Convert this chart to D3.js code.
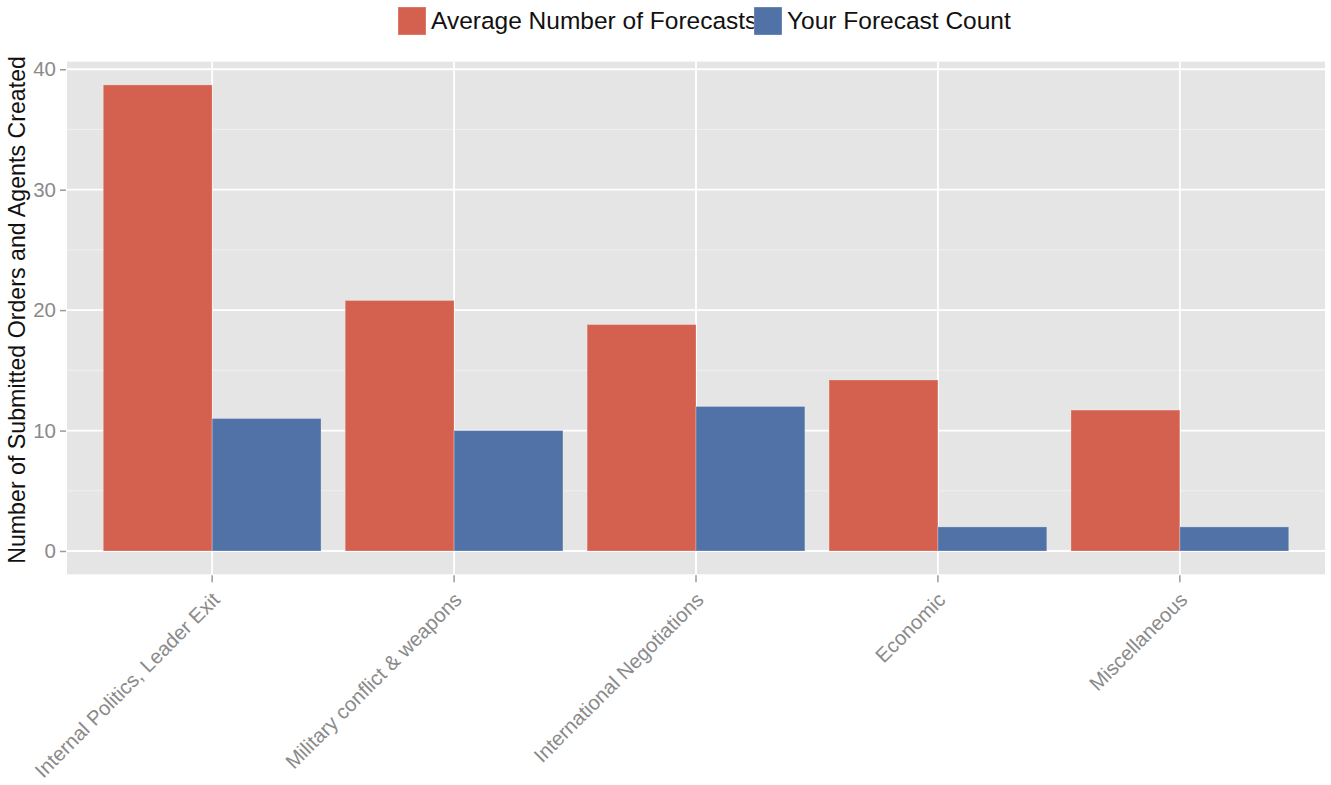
<!DOCTYPE html>
<html><head><meta charset="utf-8">
<script src="https://cdn.jsdelivr.net/npm/d3@7"></script>
<style>
body{margin:0;background:#fff;}
text{font-family:"Liberation Sans",Arial,sans-serif;}
</style></head>
<body>
<svg id="chart" width="1331" height="785"></svg>
<script>
const categories = ["Internal Politics, Leader Exit","Military conflict & weapons","International Negotiations","Economic","Miscellaneous"];
const seriesNames = ["Average Number of Forecasts","Your Forecast Count"];
const avgForecasts = [38.7, 20.8, 18.8, 14.2, 11.7];
const yourCount = [11, 10, 12, 2, 2];
const yTicks = [0, 10, 20, 30, 40];
const yMinorTicks = [5, 15, 25, 35];
const colors = ["#d4614f", "#5172a7"];

const svg = d3.select("#chart");
const panel = {left: 67, right: 1325, top: 61.6, bottom: 574.3};

const maxV = d3.max(avgForecasts.concat(yourCount));
const y = d3.scaleLinear().domain([-0.05*maxV, maxV*1.05]).range([panel.bottom, panel.top]);
const x = d3.scaleBand().domain(categories).range([panel.left, panel.right]).paddingInner(0.1).paddingOuter(0.15);
const xs = d3.scaleBand().domain(seriesNames).range([0, x.bandwidth()]);

// panel background
svg.append("rect").attr("x", panel.left).attr("y", panel.top)
  .attr("width", panel.right - panel.left).attr("height", panel.bottom - panel.top)
  .attr("fill", "#e5e5e5");

// minor grid
svg.append("g").selectAll("line").data(yMinorTicks).join("line")
  .attr("x1", panel.left).attr("x2", panel.right)
  .attr("y1", d => y(d)).attr("y2", d => y(d))
  .attr("stroke", "#f0f0f0").attr("stroke-width", 1);
// major grid
svg.append("g").selectAll("line").data(yTicks).join("line")
  .attr("x1", panel.left).attr("x2", panel.right)
  .attr("y1", d => y(d)).attr("y2", d => y(d))
  .attr("stroke", "#ffffff").attr("stroke-width", 1.8);
svg.append("g").selectAll("line").data(categories).join("line")
  .attr("x1", d => x(d) + x.bandwidth()/2).attr("x2", d => x(d) + x.bandwidth()/2)
  .attr("y1", panel.top).attr("y2", panel.bottom)
  .attr("stroke", "#ffffff").attr("stroke-width", 1.8);

// bars
const rows = categories.map((c, i) => ({c, vals: [avgForecasts[i], yourCount[i]]}));
const g = svg.append("g");
rows.forEach(r => {
  r.vals.forEach((v, j) => {
    g.append("rect")
      .attr("x", x(r.c) + xs(seriesNames[j]))
      .attr("y", y(v))
      .attr("width", xs.bandwidth())
      .attr("height", y(0) - y(v))
      .attr("fill", colors[j])
      .attr("stroke", "rgba(255,255,255,0.25)")
      .attr("stroke-width", 1);
  });
});

// y axis
const yAxis = d3.axisLeft(y).tickValues(yTicks).tickSize(6).tickPadding(4);
const ya = svg.append("g").attr("transform", `translate(${panel.left - 1},0)`).call(yAxis);
ya.select(".domain").remove();
ya.selectAll(".tick line").attr("stroke", "#9a9a9a").attr("stroke-width", 1.5);
ya.selectAll(".tick text").attr("fill", "#8a8a8a").attr("font-size", 20.5)
  .attr("font-family", "Liberation Sans, Arial, sans-serif");

// x axis
const xAxis = d3.axisBottom(x).tickSize(7).tickPadding(4);
const xa = svg.append("g").attr("transform", `translate(0,${panel.bottom + 1})`).call(xAxis);
xa.select(".domain").remove();
xa.selectAll(".tick line").attr("stroke", "#9a9a9a").attr("stroke-width", 1.5);
xa.selectAll(".tick text").attr("fill", "#8a8a8a").attr("font-size", 20.3)
  .attr("font-family", "Liberation Sans, Arial, sans-serif")
  .attr("text-anchor", "end")
  .attr("dy", "0.7em")
  .attr("transform", "translate(-9,8) rotate(-45)");

// y title
svg.append("text")
  .attr("transform", `translate(25,${(panel.top + panel.bottom)/2 - 8}) rotate(-90)`)
  .attr("text-anchor", "middle")
  .attr("font-size", 23.2)
  .attr("fill", "#111")
  .text("Number of Submitted Orders and Agents Created");

// legend
const legendX = [398, 754];
seriesNames.forEach((s, i) => {
  svg.append("rect").attr("x", legendX[i]).attr("y", 7).attr("width", 28).attr("height", 28)
    .attr("fill", colors[i]).attr("stroke", "rgba(255,255,255,0.3)");
  svg.append("text").attr("x", legendX[i] + 33).attr("y", 29)
    .attr("font-size", 24.5).attr("fill", "#111").text(s);
});
</script>
</body></html>
